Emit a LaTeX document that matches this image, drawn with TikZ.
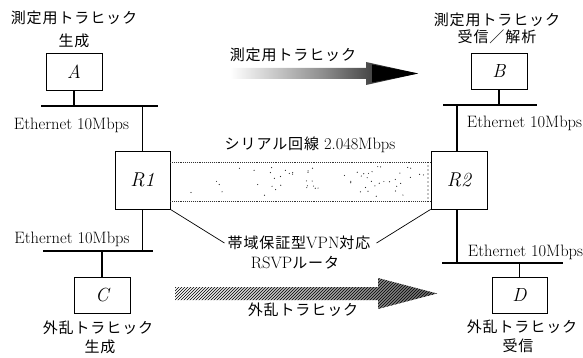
\documentclass[tikz,border=0pt]{standalone}
\usepackage{fontspec}
\newfontfamily\jp[LetterSpace=6]{Noto Sans CJK JP}
\usetikzlibrary{patterns}
\begin{document}
\begin{tikzpicture}[x=1pt,y=-1pt,
  box/.style={draw,line width=0.8pt,inner sep=0pt,font=\fontsize{19}{21}\selectfont\itshape},
  link/.style={line width=1.5pt},
  bus/.style={line width=1.8pt},
  txt/.style={inner sep=0pt,font=\fontsize{16.5}{18}\selectfont},
  jtxt/.style={inner sep=0pt,font=\fontsize{15}{17}\selectfont\jp},
  leader/.style={line width=0.7pt}]
\useasboundingbox (0,0) rectangle (583,358);
% titles
\node[jtxt] (tA1) at (74,18) {測定用トラヒック};
\node[jtxt] (tA2) at (74,41) {生成};
\node[jtxt] (tB1) at (497,20) {測定用トラヒック};
\node[jtxt] (tB2) at (497,37) {受信／解析};
\node[jtxt] (tC1) at (98,328) {外乱トラヒック};
\node[jtxt] (tC2) at (100,347) {生成};
\node[jtxt] (tD1) at (522,327) {外乱トラヒック};
\node[jtxt] (tD2) at (518,346) {受信};
% boxes
\node[box,minimum width=56pt,minimum height=37pt] (A) at (74,71.5) {A};
\node[box,minimum width=56pt,minimum height=36pt] (B) at (499,71) {B};
\node[box,minimum width=56pt,minimum height=36pt] (C) at (102,295) {C};
\node[box,minimum width=55pt,minimum height=36pt] (D) at (519.5,295) {D};
\node[box,minimum width=55pt,minimum height=58pt,font=\fontsize{20}{22}\selectfont\itshape] (R1) at (142.5,180) {R1};
\node[box,minimum width=56pt,minimum height=58pt,font=\fontsize{20}{22}\selectfont\itshape] (R2) at (459,180) {R2};
% buses
\coordinate (b1L) at (41,106); \coordinate (b1R) at (158,106);
\coordinate (b2L) at (443,105); \coordinate (b2R) at (537,105);
\coordinate (b3L) at (43,251); \coordinate (b3R) at (153,251);
\coordinate (b4L) at (442,263); \coordinate (b4R) at (563,263);
\draw[bus] (b1L) -- (b1R);
\draw[bus] (b2L) -- (b2R);
\draw[bus] (b3L) -- (b3R);
\draw[bus] (b4L) -- (b4R);
\draw[link] (A.south) -- (A.south |- b1L);
\draw[link] (B.south) -- (B.south |- b2L);
\draw[link] (C.north) -- (C.north |- b3L);
\draw[link] (D.north) -- (D.north |- b4L);
\draw[link] (R1.north) -- (R1.north |- b1L);
\draw[link] (R1.south) -- (R1.south |- b3L);
\coordinate (r2t) at (457,151); \coordinate (r2b) at (457,209);
\draw[link] (r2t) -- (r2t |- b2L);
\draw[link] (r2b) -- (r2b |- b4L);
% ethernet labels
\node[txt] (e1) at (71.5,125) {Ethernet 10Mbps};
\node[txt] (e2) at (524.5,123) {Ethernet 10Mbps};
\node[txt] (e3) at (72,239) {Ethernet 10Mbps};
\node[txt] (e4) at (525.5,252) {Ethernet 10Mbps};
% serial band
\draw[line width=0.9pt,densely dotted,black!80] (170,162) -- (431,162);
\draw[line width=0.9pt,densely dotted,black!80] (170,201) -- (431,201);
\pgfmathsetseed{11}
\foreach \i in {1,...,60}{
  \pgfmathsetmacro\px{176+252*(rnd^0.55)}
  \pgfmathsetmacro\py{166+32*rnd}
  \fill[black!85] (\px,\py) circle (0.6pt);
}
\foreach \yy in {166,170,...,198}{ \fill (428,\yy) circle (0.6pt); }
\node[txt] (ser) at (310,145) {{\fontsize{15}{17}\selectfont\jp シリアル回線} 2.048Mbps};
% router label
\node[txt] (lab1) at (299,243) {{\fontsize{15}{17}\selectfont\jp 帯域保証型}VPN{\fontsize{15}{17}\selectfont\jp 対応}};
\node[txt] (lab2) at (295,263) {RSVP{\fontsize{15}{17}\selectfont\jp ルータ}};
\draw[leader] (R1.south east) -- ([xshift=-3pt]lab1.west);
\draw[leader] (R2.south west) -- ([xshift=6pt]lab1.east);
% measurement traffic arrow
\node[jtxt] (ta) at (293,55) {測定用トラヒック};
\shade[left color=white,right color=black,middle color=black!45]
  (230,68) -- (366,68) -- (366,62) -- (418,73.5) -- (366,85) -- (366,79) -- (230,79) -- cycle;
\fill[black] (372,64.5) -- (418,73.5) -- (372,82.5) -- cycle;
% disturbance traffic arrow
\node[jtxt] (tb) at (303,310) {外乱トラヒック};
\shade[left color=white,right color=black!60]
  (175,287) -- (378,287) -- (378,278) -- (437,293.5) -- (378,309) -- (378,300) -- (175,300) -- cycle;
\fill[pattern=north east lines,pattern color=black]
  (175,287) -- (378,287) -- (378,278) -- (437,293.5) -- (378,309) -- (378,300) -- (175,300) -- cycle;
\end{tikzpicture}
\end{document}
